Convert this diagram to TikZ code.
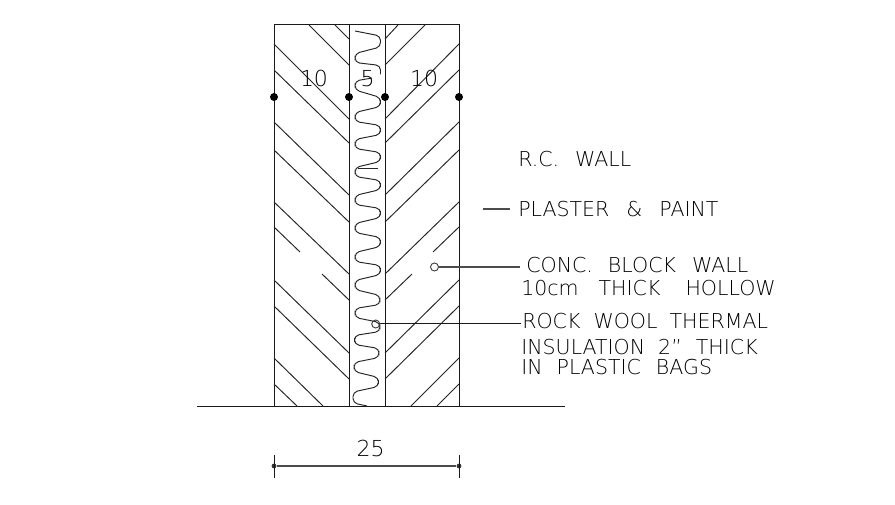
\documentclass[tikz,border=0pt]{standalone}
\usepackage{fontspec}
\setmainfont{DejaVu Sans ExtraLight}
\tikzset{
  px/.style={x=0.75pt,y=-0.75pt},
  ln/.style={line width=0.75pt,black!90},
  hatch/.style={line width=0.72pt,black!85},
  dot/.style={circle,fill=black,inner sep=0pt,minimum size=6pt},
  smalldot/.style={circle,fill=black!80,inner sep=0pt,minimum size=3.6pt},
  ring/.style={circle,draw=black!75,line width=0.7pt,inner sep=0pt,minimum size=6pt},
  lead/.style={line width=0.9pt,black!70},
  lbl/.style={anchor=base west,inner sep=0pt,text=black,font=\fontsize{15.4pt}{15.4pt}\selectfont},
  num/.style={anchor=base,inner sep=0pt,text=black,font=\fontsize{16.5pt}{16.5pt}\selectfont},
}
\def\g#1{\hspace{\dimexpr #1pt*3/4\relax}}
\def\R#1#2{-- (#1,#2-4.5) -- (#1,#2+4.5)}
\begin{document}
\begin{tikzpicture}[px]
\useasboundingbox[fill=white] (0,0) rectangle (895,505);
% walls
\draw[ln] (274,406.5) -- (274,25) -- (459,25) -- (459,406.5);
\draw[ln] (349,25) -- (349,406.5);
\draw[ln] (385,25) -- (385,406.5);
\draw[ln] (197,406.5) -- (565,406.5);
% left hatch
\draw[hatch] (309,25) -- (349,65);
\draw[hatch] (335,25) -- (349,39);
\draw[hatch] (274,44) -- (349,119);
\draw[hatch] (274,70) -- (349,143);
\draw[hatch] (274,122) -- (349,195);
\draw[hatch] (274,150) -- (349,222);
\draw[hatch] (274,202) -- (349,274);
\draw[hatch] (274,227) -- (300,252);
\draw[hatch] (322,274) -- (349,300);
\draw[hatch] (274,280) -- (349,353);
\draw[hatch] (274,306) -- (349,379);
\draw[hatch] (274,358) -- (323,406);
\draw[hatch] (274,384) -- (297,406);
% right hatch
\draw[hatch] (398,25) -- (385,39);
\draw[hatch] (425,25) -- (385,65);
\draw[hatch] (459,44) -- (385,119);
\draw[hatch] (459,70) -- (385,143);
\draw[hatch] (459,122) -- (385,195);
\draw[hatch] (459,150) -- (385,222);
\draw[hatch] (459,202) -- (385,274);
\draw[hatch] (459,227) -- (433,252);
\draw[hatch] (412,274) -- (385,300);
\draw[hatch] (459,280) -- (385,353);
\draw[hatch] (459,306) -- (385,379);
\draw[hatch] (459,358) -- (411,406);
\draw[hatch] (459,384) -- (437,406);
% insulation
\draw[hatch,rounded corners=3.4pt] (355,31) -- (380.5,36) -- (380.5,47)
 \R{355}{58} \R{380.5}{70};
\draw[hatch,rounded corners=3.4pt] (372,78) -- (355,81) -- (355,90)
 \R{380.5}{102} \R{355}{117} \R{380.5}{130} \R{355}{144} \R{380.5}{157}
 \R{355}{172} \R{380.5}{185} \R{355}{200} \R{380.5}{213} \R{355}{228}
 \R{380.5}{242} \R{355}{257} \R{380.5}{270} \R{355}{285} \R{380}{300}
 \R{355}{313} \R{380}{327} \R{354.5}{340} \R{379}{353} \R{354}{367}
 \R{378.5}{382} -- (353,392) -- (353,403) -- (367,406);
\coordinate (w1) at (358,168); \coordinate (w2) at (378,168);
\draw[hatch] (w1) -- (w2);
% dots
\node[dot] (d1) at (274,97) {};
\node[dot] (d2) at (349,97) {};
\node[dot] (d3) at (385,97) {};
\node[dot] (d4) at (459,97) {};
% thickness numbers
\node[num] (n1) at (314,87) {10};
\node[num] (n2) at (367.5,87) {5};
\node[num] (n3) at (424,87) {10};
% overall dimension
\node[smalldot] (e1) at (274,466) {};
\node[smalldot] (e2) at (459,466) {};
\coordinate (t1a) at (274,455); \coordinate (t1b) at (274,478);
\coordinate (t2a) at (459,455); \coordinate (t2b) at (459,478);
\draw[lead] (e1) -- (e2);
\draw[ln] (t1a) -- (t1b);
\draw[ln] (t2a) -- (t2b);
\node[num] (n4) at (370.5,456) {25};
% labels
\node[lbl] (l1) at (518,167) {R.C.\g{16}WALL};
\node[lbl] (l2) at (518,217) {PLASTER\g{17}\&\g{17}PAINT};
\node[lbl] (l3) at (526,273) {CONC.\g{15}BLOCK\g{16}WALL};
\node[lbl] (l4) at (521,296) {10cm\g{20}THICK\g{25}HOLLOW};
\node[lbl] (l5) at (522,329) {ROCK\g{13}WOOL\g{12}THERMAL};
\node[lbl] (l6) at (521,355) {INSULATION\g{13}2''\g{14}THICK};
\node[lbl] (l7) at (521,375) {IN\g{14}PLASTIC\g{15}BAGS};
% leaders
\coordinate (p1) at (483,209); \coordinate (p2) at (510,209);
\draw[lead] (p1) -- (p2);
\node[ring] (c1) at (434.5,267) {};
\coordinate (c1e) at (520,267);
\draw[lead] (c1) -- (c1e);
\node[ring] (c2) at (375.7,324) {};
\coordinate (c2e) at (521,324);
\draw[ln] (c2) -- (c2e);
\end{tikzpicture}
\end{document}
